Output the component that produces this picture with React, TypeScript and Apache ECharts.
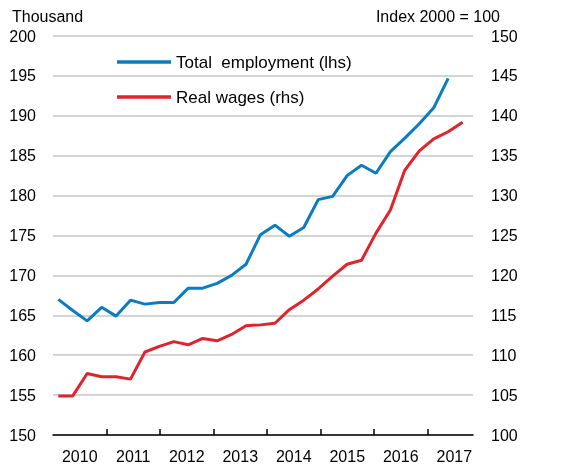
import React, { useEffect, useRef } from "react";
import * as echarts from "echarts";

const yearLabels = ["2010", "2011", "2012", "2013", "2014", "2015", "2016", "2017"];
const yearTicks = [2011, 2012, 2013, 2014, 2015, 2016, 2017];

// Quarterly observations starting 2010 Q1
const employment = [
  167.0, 165.6, 164.3, 166.0, 164.9, 166.9, 166.4, 166.6, 166.6, 168.4,
  168.4, 169.0, 170.0, 171.4, 175.1, 176.3, 174.9, 176.0, 179.5, 179.9,
  182.5, 183.8, 182.8, 185.5, 187.2, 189.0, 191.0, 194.7,
];
const realWages = [
  104.9, 104.9, 107.7, 107.3, 107.3, 107.0, 110.4, 111.1, 111.7, 111.3,
  112.1, 111.8, 112.6, 113.7, 113.8, 114.0, 115.7, 116.9, 118.3, 119.9,
  121.4, 121.9, 125.3, 128.2, 133.2, 135.6, 137.1, 138.0, 139.2,
];

const leftTicks = { min: 150, max: 200, interval: 5 };
const rightTicks = { min: 100, max: 150, interval: 5 };

const FONT = "'Liberation Sans', Arial, sans-serif";
const FS = 16;
const BLUE = "#0a7cc1";
const RED = "#e1232b";

export default function App() {
  const ref = useRef<HTMLDivElement>(null);
  useEffect(() => {
    if (!ref.current) return;
    const chart = echarts.init(ref.current, undefined, { renderer: "svg" });
    chart.setOption({
      animation: false,
      textStyle: { fontFamily: FONT },
      graphic: [
        {
          type: "text",
          left: 12,
          top: 8,
          style: { text: "Thousand", font: `${FS}px ${FONT}`, fill: "#000" },
        },
        {
          type: "text",
          right: 64,
          top: 8,
          style: { text: "Index 2000 = 100", font: `${FS}px ${FONT}`, fill: "#000" },
        },
      ],
      legend: {
        orient: "vertical",
        left: 112,
        top: 48.5,
        icon: "rect",
        itemWidth: 54,
        itemHeight: 3.5,
        itemGap: 18,
        textStyle: { fontSize: 17, color: "#000", fontFamily: FONT },
        data: ["Total  employment (lhs)", "Real wages (rhs)"],
      },
      grid: { left: 53, right: 91, top: 36, bottom: 30 },
      xAxis: [
        {
          type: "value",
          min: 2010,
          max: 2017.85,
          axisLine: { show: true, lineStyle: { color: "#000", width: 1.5 } },
          axisTick: {
            show: true,
            inside: true,
            length: 6,
            customValues: yearTicks,
            lineStyle: { color: "#000", width: 1.5 },
          },
          axisLabel: {
            show: true,
            margin: 13,
            fontSize: FS,
            color: "#000",
            fontFamily: FONT,
            customValues: yearLabels.map((y) => Number(y) + 0.5),
            formatter: (v: number) => yearLabels[Math.floor(v) - 2010] ?? "",
          },
          splitLine: { show: false },
        },
        {
          type: "value",
          min: -0.367,
          max: 28.72,
          show: false,
          splitLine: { show: false },
        },
      ],
      yAxis: [
        {
          type: "value",
          ...leftTicks,
          position: "left",
          axisLine: { show: false },
          axisTick: { show: false },
          axisLabel: { fontSize: FS, color: "#000", margin: 17, fontFamily: FONT },
          splitLine: { show: true, lineStyle: { color: "#c6c6c6", width: 1.5 } },
        },
        {
          type: "value",
          ...rightTicks,
          position: "right",
          axisLine: { show: false },
          axisTick: { show: false },
          axisLabel: { fontSize: FS, color: "#000", margin: 18, fontFamily: FONT },
          splitLine: { show: false },
        },
      ],
      series: [
        {
          name: "Total  employment (lhs)",
          type: "line",
          xAxisIndex: 1,
          yAxisIndex: 0,
          showSymbol: false,
          symbol: "none",
          data: employment.map((v, i) => [i, v]),
          lineStyle: { color: BLUE, width: 3 },
          itemStyle: { color: BLUE },
        },
        {
          name: "Real wages (rhs)",
          type: "line",
          xAxisIndex: 1,
          yAxisIndex: 1,
          showSymbol: false,
          symbol: "none",
          data: realWages.map((v, i) => [i, v]),
          lineStyle: { color: RED, width: 3 },
          itemStyle: { color: RED },
        },
      ],
    });
    return () => chart.dispose();
  }, []);
  return <div ref={ref} style={{ width: 564, height: 465, position: "fixed", left: 0, top: 0 }} />;
}
